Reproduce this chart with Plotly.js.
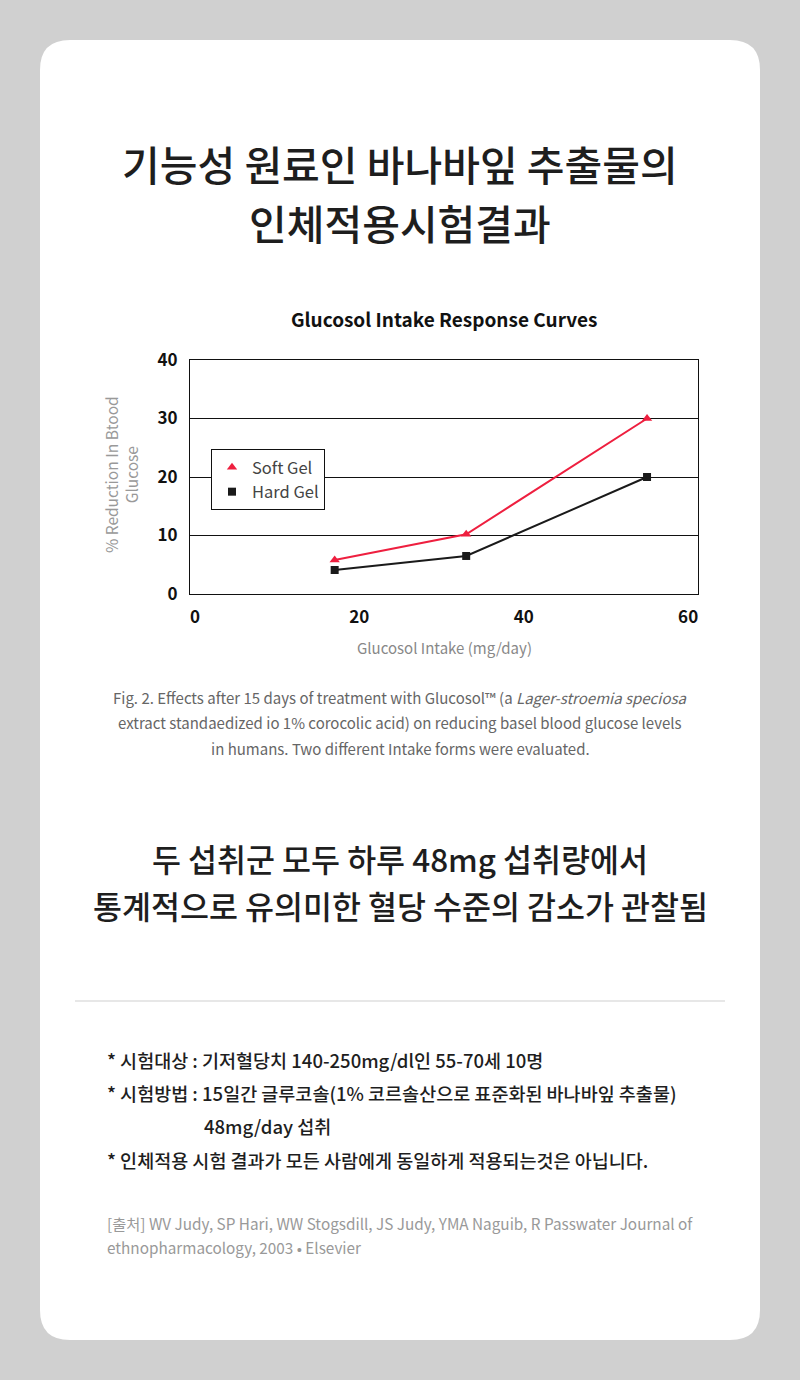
<!DOCTYPE html>
<html><head><meta charset="utf-8">
<script src="https://cdn.plot.ly/plotly-3.0.1.min.js"></script>
<style>html,body{margin:0;padding:0;background:#d0d0d0;}</style>
</head><body><div id="c" style="width:800px;height:1380px;"></div>
<script>
const intake = [17, 33, 55];
const softGel = [5.8, 10.2, 30];
const hardGel = [4.1, 6.5, 20];
const seriesNames = ["Soft Gel", "Hard Gel"];
const xTicks = [0, 20, 40, 60];
const yTicks = [0, 10, 20, 30, 40];

const KR = '"Noto Sans CJK KR", "Noto Sans", sans-serif';
const W = 800, H = 1380;
const px = x => x / W;
const py = y => 1 - y / H;

function ann(text, x, y, size, color, opts, weight) {
  return Object.assign({text: text, x: px(x), y: py(y), xref: 'paper', yref: 'paper',
    showarrow: false, xanchor: 'center', yanchor: 'middle',
    font: {family: KR, size: size, color: color, weight: weight || 'normal'}}, opts || {});
}

// rounded card
const L = px(40), R = px(760), T = py(40), B = py(1340);
const rx = 30 / W, ry = 30 / H;
const cardPath = `M ${L+rx} ${T} L ${R-rx} ${T} Q ${R} ${T} ${R} ${T-ry} L ${R} ${B+ry} Q ${R} ${B} ${R-rx} ${B} L ${L+rx} ${B} Q ${L} ${B} ${L} ${B+ry} L ${L} ${T-ry} Q ${L} ${T} ${L+rx} ${T} Z`;

const red = '#ee1f3f', blk = '#1a1a1a';
const traces = [
  {x: intake, y: softGel, name: seriesNames[0], type: 'scatter', mode: 'lines+markers', showlegend: false,
   line: {color: red, width: 2}, marker: {symbol: 'triangle-up', size: 9, color: red}},
  {x: intake, y: hardGel, name: seriesNames[1], type: 'scatter', mode: 'lines+markers', showlegend: false,
   line: {color: blk, width: 2}, marker: {symbol: 'square', size: 8, color: blk}},
  // legend entries (marker only, as in the reference legend)
  {x: [null], y: [null], name: seriesNames[0], type: 'scatter', mode: 'markers',
   marker: {symbol: 'triangle-up', size: 9, color: red}},
  {x: [null], y: [null], name: seriesNames[1], type: 'scatter', mode: 'markers',
   marker: {symbol: 'square', size: 8, color: blk}}
];

const annotations = [
  ann('기능성 원료인 바나바잎 추출물의', 400, 163, 41, '#1e1e1e', null, 500),
  ann('인체적용시험결과', 400, 222, 41, '#1e1e1e', null, 500),
  ann('<b>Glucosol Intake Response Curves</b>', 444, 318, 19, '#111'),
  ann('Glucosol Intake (mg/day)', 444, 648, 15, '#888'),
  ann('% Reduction In Btood<br>Glucose', 121, 475, 15.5, '#999', {textangle: -90}),
  ann('Fig. 2. Effects after 15 days of treatment with Glucosol™ (a <i>Lager-stroemia speciosa</i>', 400, 697, 15, '#666'),
  ann('extract standaedized io 1% corocolic acid) on reducing basel blood glucose levels', 400, 722, 15, '#666'),
  ann('in humans. Two different Intake forms were evaluated.', 400, 748, 15, '#666'),
  ann('두 섭취군 모두 하루 48mg 섭취량에서', 400, 858, 31.5, '#1e1e1e', null, 500),
  ann('통계적으로 유의미한 혈당 수준의 감소가 관찰됨', 400, 905, 31.5, '#1e1e1e', null, 500),
  ann('* 시험대상 : 기저혈당치 140-250mg/dl인 55-70세 10명', 105, 1060, 18.5, '#1e1e1e', {xanchor: 'left'}, 500),
  ann('* 시험방법 : 15일간 글루코솔(1% 코르솔산으로 표준화된 바나바잎 추출물)', 105, 1093, 18.5, '#1e1e1e', {xanchor: 'left'}, 500),
  ann('48mg/day 섭취', 202, 1126, 18.5, '#1e1e1e', {xanchor: 'left'}, 500),
  ann('* 인체적용 시험 결과가 모든 사람에게 동일하게 적용되는것은 아닙니다.', 105, 1160, 18.5, '#1e1e1e', {xanchor: 'left'}, 500),
  ann('[출처] WV Judy, SP Hari, WW Stogsdill, JS Judy, YMA Naguib, R Passwater Journal of', 105, 1223, 15.3, '#999', {xanchor: 'left'}),
  ann('ethnopharmacology, 2003 • Elsevier', 105, 1247, 15.3, '#999', {xanchor: 'left'})
];

const layout = {
  width: W, height: H,
  margin: {l: 0, r: 0, t: 0, b: 0},
  paper_bgcolor: '#d0d0d0', plot_bgcolor: 'rgba(0,0,0,0)',
  showlegend: true,
  legend: {x: px(211), y: py(449), xanchor: 'left', yanchor: 'top',
    bgcolor: '#fff', bordercolor: '#111', borderwidth: 1, itemwidth: 30,
    font: {family: KR, size: 16.5, color: '#444'}, tracegroupgap: 0},
  xaxis: {domain: [px(190), px(698)], range: [-0.6, 61.2], tickvals: xTicks,
    showgrid: false, zeroline: false, showline: true, linecolor: '#111', linewidth: 1, mirror: true,
    ticks: '', ticklabelstandoff: 8,
    tickfont: {family: KR, size: 17, color: '#111', weight: 'bold'}},
  yaxis: {domain: [py(594), py(360)], range: [0, 40], tickvals: yTicks,
    showgrid: true, gridcolor: '#111', gridwidth: 1, zeroline: false,
    showline: true, linecolor: '#111', linewidth: 1, mirror: true,
    ticks: '', ticklabelstandoff: 8,
    tickfont: {family: KR, size: 17, color: '#111', weight: 'bold'}},
  shapes: [
    {type: 'path', xref: 'paper', yref: 'paper', path: cardPath, fillcolor: '#fff', line: {width: 0}, layer: 'below'},
    {type: 'line', xref: 'paper', yref: 'paper', x0: px(75), x1: px(725), y0: py(1001), y1: py(1001), line: {color: '#cfcfcf', width: 1}}
  ],
  annotations: annotations
};

Plotly.newPlot('c', traces, layout, {staticPlot: true});
</script></body></html>
